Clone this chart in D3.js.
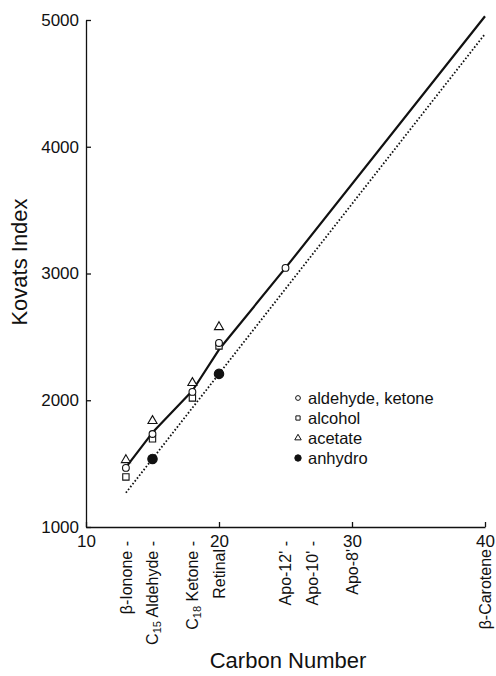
<!DOCTYPE html>
<html>
<head>
<meta charset="utf-8">
<script src="https://cdn.jsdelivr.net/npm/d3@7"></script>
<style>
  body { margin: 0; background: #fff; }
  svg text { font-family: "Liberation Sans", Arial, sans-serif; fill: #111; }
</style>
</head>
<body>
<div id="chart"></div>
<script>
// carbon numbers and Kovats index values
const ketoneC   = [13, 15, 18, 20, 25];
const ketoneK   = [1466, 1734, 2066, 2452, 3044];
const alcoholC  = [13, 15, 18, 20];
const alcoholK  = [1395, 1695, 2018, 2428];
const acetateC  = [13, 15, 18, 20];
const acetateK  = [1529, 1837, 2137, 2578];
const anhydroC  = [15, 20];
const anhydroK  = [1537, 2208];
const fitC      = [13, 15, 18, 20, 25, 40];
const fitK      = [1470, 1745, 2075, 2400, 3044, 5030];
const anhFitC   = [13, 40];
const anhFitK   = [1270, 4890];
const yTicks    = [1000, 2000, 3000, 4000, 5000];
const xTicks    = [10, 20, 30, 40];
const compounds = [
  { c: 13, name: 'β-Ionone', dash: true },
  { c: 15, name: 'C|15| Aldehyde', dash: true },
  { c: 18, name: 'C|18| Ketone', dash: true },
  { c: 20, name: 'Retinal', dash: false },
  { c: 25, name: "Apo-12'", dash: true },
  { c: 27, name: "Apo-10'", dash: true },
  { c: 30, name: "Apo-8'", dash: false },
  { c: 40, name: 'β-Carotene', dash: false }
];
const legendNames = ['aldehyde, ketone', 'alcohol', 'acetate', 'anhydro'];

const W = 496, H = 676;
const svg = d3.select('#chart').append('svg').attr('width', W).attr('height', H);

const x = d3.scaleLinear().domain([10, 40]).range([86, 485]);
const y = d3.scaleLinear().domain([1000, 5000]).range([527, 20]);

// axes, ticks pointing inward
const gx = svg.append('g').attr('transform', `translate(0,${y(1000)})`)
  .call(d3.axisBottom(x).tickValues(xTicks).tickSizeInner(-5).tickSizeOuter(0).tickPadding(10));
const gy = svg.append('g').attr('transform', `translate(${x(10)},0)`)
  .call(d3.axisLeft(y).tickValues(yTicks).tickFormat(d3.format('d'))
    .tickSizeInner(-5).tickSizeOuter(0).tickPadding(7));
[gx, gy].forEach(g => {
  g.selectAll('path, line').attr('stroke', '#111').attr('stroke-width', 1.3);
  g.selectAll('text').attr('font-size', '17px').attr('fill', '#111')
    .attr('font-family', '"Liberation Sans", Arial, sans-serif');
});
gx.selectAll('text').attr('dy', '0.6em');

// fitted lines
svg.append('path')
  .datum(d3.zip(fitC, fitK))
  .attr('d', d3.line().x(d => x(d[0])).y(d => y(d[1])))
  .attr('fill', 'none').attr('stroke', '#111').attr('stroke-width', 2.2)
  .attr('stroke-linejoin', 'round');
svg.append('path')
  .datum(d3.zip(anhFitC, anhFitK))
  .attr('d', d3.line().x(d => x(d[0])).y(d => y(d[1])))
  .attr('fill', 'none').attr('stroke', '#111').attr('stroke-width', 1.8)
  .attr('stroke-dasharray', '1.6,2');

// markers
const sym = {
  circle:   d3.symbol().type(d3.symbolCircle).size(36),
  square:   d3.symbol().type(d3.symbolSquare).size(40),
  triangle: d3.symbol().type(d3.symbolTriangle).size(36),
  dot:      d3.symbol().type(d3.symbolCircle).size(70)
};
function drawSeries(cs, ks, kind, filled) {
  svg.append('g').selectAll('path')
    .data(d3.zip(cs, ks)).join('path')
    .attr('transform', d => `translate(${x(d[0])},${y(d[1])})`)
    .attr('d', sym[kind]())
    .attr('fill', filled ? '#111' : '#fff')
    .attr('stroke', '#111').attr('stroke-width', 1.1);
}
drawSeries(alcoholC, alcoholK, 'square', false);
drawSeries(acetateC, acetateK, 'triangle', false);
drawSeries(ketoneC, ketoneK, 'circle', false);
drawSeries(anhydroC, anhydroK, 'dot', true);

// legend
const kinds = ['circle', 'square', 'triangle', 'dot'];
const lg = svg.append('g');
legendNames.forEach((n, i) => {
  const ly = 398 + i * 20;
  const small = d3.symbol().type(kinds[i] === 'square' ? d3.symbolSquare :
    kinds[i] === 'triangle' ? d3.symbolTriangle : d3.symbolCircle)
    .size(kinds[i] === 'dot' ? 32 : 18);
  lg.append('path').attr('transform', `translate(298,${ly})`).attr('d', small())
    .attr('fill', kinds[i] === 'dot' ? '#111' : '#fff')
    .attr('stroke', '#111').attr('stroke-width', 1);
  lg.append('text').attr('x', 308).attr('y', ly).attr('dy', '0.35em')
    .attr('font-size', '16.5px').text(n);
});

// compound names under the x axis
compounds.forEach(d => {
  const t = svg.append('text')
    .attr('transform', `translate(${x(d.c)},${d.dash ? 541 : 549}) rotate(-90)`)
    .attr('text-anchor', 'end').attr('dy', '0.35em').attr('font-size', '16px');
  const parts = (d.name + (d.dash ? ' -' : '')).split('|');
  parts.forEach((p, i) => {
    const ts = t.append('tspan').text(p);
    if (i === 1) ts.attr('font-size', '11px').attr('baseline-shift', '-25%');
  });
});

// axis titles
svg.append('text').attr('x', 288).attr('y', 668).attr('text-anchor', 'middle')
  .attr('font-size', '22px').text('Carbon Number');
svg.append('text').attr('transform', 'translate(27,262) rotate(-90)')
  .attr('text-anchor', 'middle').attr('font-size', '22px').text('Kovats Index');
</script>
</body>
</html>
